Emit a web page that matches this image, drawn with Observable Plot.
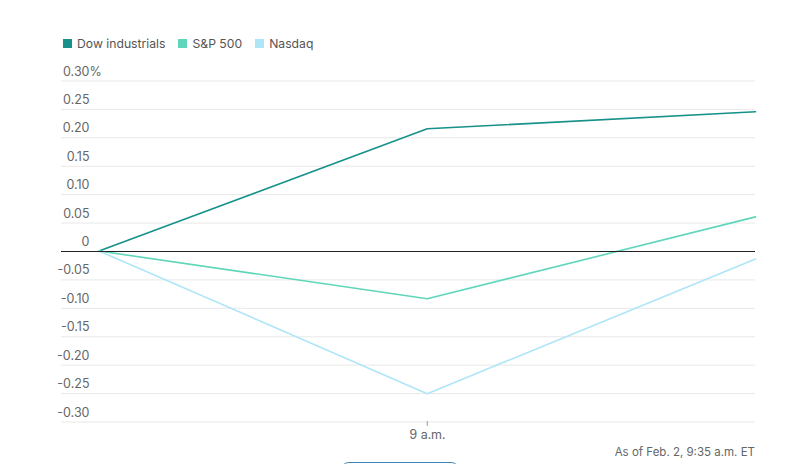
<!DOCTYPE html>
<html>
<head>
<meta charset="utf-8">
<script src="https://cdn.jsdelivr.net/npm/d3@7"></script>
<script src="https://cdn.jsdelivr.net/npm/@observablehq/plot@0.6"></script>
<style>
  html, body { margin: 0; padding: 0; background: #fff; }
  body { width: 804px; height: 464px; position: relative; overflow: hidden; font-family: Inter, "Noto Sans", sans-serif; }
  #legend { position: absolute; left: 63px; top: 36px; display: flex; gap: 13px; font-size: 12.2px; color: #555; }
  #legend span.item { display: flex; align-items: center; }
  #legend i { display: inline-block; width: 9px; height: 9px; margin-right: 5px; }
  #chart { position: absolute; left: 0; top: 58px; }
  #caption { position: absolute; right: 49px; top: 445px; font-size: 11.5px; color: #666; }
  #btn { position: absolute; left: 341px; top: 462px; width: 118px; height: 20px; border-top: 1.5px solid #3a86b8; border-radius: 8px 8px 0 0; }
</style>
</head>
<body>
<div id="legend"></div>
<div id="chart"></div>
<div id="caption">As of Feb. 2, 9:35 a.m. ET</div>
<div id="btn"></div>
<script>
const series = ["Dow industrials", "S&P 500", "Nasdaq"];
const colors = ["#17918a", "#5fd6ba", "#aee6f8"];
const times = ["2023-02-02T08:25Z", "2023-02-02T09:00Z", "2023-02-02T09:35Z"];
const dowValues = [0, 0.215, 0.245];
const spValues = [0, -0.084, 0.06];
const nasdaqValues = [0, -0.251, -0.014];
const yTicks = [0.30, 0.25, 0.20, 0.15, 0.10, 0.05, 0, -0.05, -0.10, -0.15, -0.20, -0.25, -0.30];
const yTickLabels = ["0.30", "0.25", "0.20", "0.15", "0.10", "0.05", "0", "-0.05", "-0.10", "-0.15", "-0.20", "-0.25", "-0.30"];
const xTicks = ["2023-02-02T09:00Z"];
const xTickLabels = ["9 a.m."];

const valuesBySeries = [dowValues, spValues, nasdaqValues];
const data = [];
series.forEach((s, i) => times.forEach((t, j) => data.push({series: s, time: new Date(t), value: valuesBySeries[i][j]})));
const ticks = yTicks.map((v, i) => ({v, label: yTickLabels[i]}));

const legend = document.getElementById("legend");
series.forEach((s, i) => {
  const el = document.createElement("span");
  el.className = "item";
  el.innerHTML = `<i style="background:${colors[i]}"></i>${s.replace("&", "&amp;")}`;
  legend.appendChild(el);
});

const chart = Plot.plot({
  width: 804,
  height: 388,
  marginLeft: 61,
  marginRight: 49,
  marginTop: 22,
  marginBottom: 25,
  style: {fontFamily: "Inter, 'Noto Sans', sans-serif", fontSize: "12.5px", color: "#666"},
  x: {type: "utc", domain: [new Date("2023-02-02T08:21Z"), new Date("2023-02-02T09:35Z")], axis: null},
  y: {domain: [-0.30, 0.30], axis: null},
  color: {domain: series, range: colors},
  marks: [
    Plot.ruleY(yTicks.filter(v => v !== 0), {stroke: "#e8e8e8", strokeWidth: 1, dy: 0.5}),
    Plot.text(ticks, {y: "v", text: "label", frameAnchor: "left", dx: 28, dy: -9, textAnchor: "end", fill: "#666"}),
    Plot.text(ticks.filter(d => d.v === 0.30), {y: "v", text: () => "%", frameAnchor: "left", dx: 28, dy: -9, textAnchor: "start", fill: "#666"}),
    Plot.axisX(xTicks.map(t => new Date(t)), {tickFormat: (d, i) => xTickLabels[i], tickSize: 5, tickPadding: 4, stroke: "#999", fill: "#666"}),
    Plot.line(data, {x: "time", y: "value", z: "series", stroke: "series", strokeWidth: 1.6}),
    Plot.ruleY([0], {stroke: "#222", strokeWidth: 1, dy: 0.5})
  ]
});
document.getElementById("chart").appendChild(chart);
</script>
</body>
</html>
